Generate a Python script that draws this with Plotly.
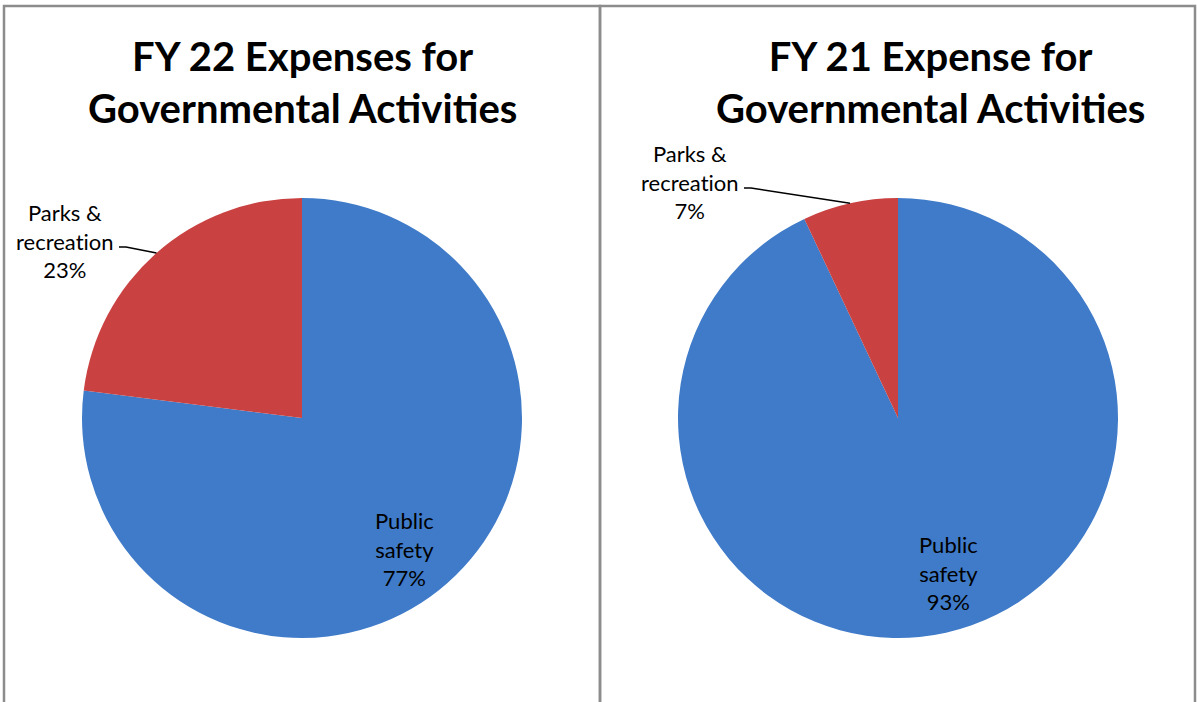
import math
import plotly.graph_objects as go

# ---- data ----
ZWNJ = "\u200c"  # keeps the browser from fusing "ti" into a ligature
categories = ["Public safety", "Parks & recreation"]
label_lines = ["Public<br>safety", f"Parks &<br>recreat{ZWNJ}ion"]
fy22_values = [77, 23]
fy21_values = [93, 7]
titles = ["FY 22 Expenses for<br>Governmental Activi" + ZWNJ + "ties",
          "FY 21 Expense for<br>Governmental Activi" + ZWNJ + "ties"]
colors = ["#3F7BC8", "#C94140"]

W, H = 1197, 702
FONT = "Lato"

def px(x):
    return x / W

def py(y):
    return 1 - y / H

# pie geometry and label placement (pixels)
pies = [
    dict(values=fy22_values, cx=302, cy=418, r=220, title=titles[0], tx=302,
         lab_ps=(404, 549), lab_parks=(65, 241)),
    dict(values=fy21_values, cx=898, cy=418, r=220, title=titles[1], tx=930,
         lab_ps=(948, 573), lab_parks=(690, 182)),
]

fig = go.Figure()
annotations = []
shapes = []

for p in pies:
    cx, cy, r = p["cx"], p["cy"], p["r"]
    fig.add_trace(go.Pie(
        labels=categories,
        values=p["values"],
        sort=False,
        direction="clockwise",
        rotation=0,
        marker=dict(colors=colors, line=dict(width=0)),
        textinfo="none",
        hoverinfo="label+percent",
        showlegend=False,
        domain=dict(x=[px(cx - r), px(cx + r)], y=[py(cy + r), py(cy - r)]),
    ))
    total = sum(p["values"])
    frac_ps = p["values"][0] / total
    lx, ly = p["lab_ps"]
    annotations.append(dict(
        x=px(lx), y=py(ly), xref="paper", yref="paper", showarrow=False,
        xanchor="center", yanchor="middle",
        text=f"{label_lines[0]}<br>{round(frac_ps*100)}%",
        font=dict(family=FONT, size=22, color="#000"), align="center",
    ))
    # parks: slice ending at 12 o'clock
    frac_pk = p["values"][1] / total
    mid_pk = math.radians(-frac_pk / 2 * 360)
    ex = cx + r * math.sin(mid_pk)
    ey = cy - r * math.cos(mid_pk)
    tx, ty = p["lab_parks"]
    annotations.append(dict(
        x=px(tx), y=py(ty), xref="paper", yref="paper", showarrow=False,
        xanchor="center", yanchor="middle",
        text=f"{label_lines[1]}<br>{round(frac_pk*100)}%",
        font=dict(family=FONT, size=22, color="#000"), align="center",
    ))
    # leader line
    hx0 = tx + 54
    hx1 = tx + 61
    hy = ty + 6
    shapes.append(dict(type="path", xref="paper", yref="paper",
                       path=f"M {px(ex)} {py(ey)} L {px(hx1)} {py(hy)} L {px(hx0)} {py(hy)}",
                       line=dict(color="#000", width=1.5)))
    # title
    annotations.append(dict(
        x=px(p["tx"]), y=py(82), xref="paper", yref="paper", showarrow=False,
        xanchor="center", yanchor="middle",
        text=f"<b>{p['title']}</b>", font=dict(family=FONT, size=40, color="#000"),
        align="center",
    ))

# panel borders
for x0, x1 in [(4, 600), (600, 1195)]:
    shapes.append(dict(type="rect", xref="paper", yref="paper",
                       x0=px(x0), x1=px(x1), y0=py(720), y1=py(6),
                       line=dict(color="#8C8C8C", width=2.5), fillcolor="rgba(0,0,0,0)",
                       layer="below"))

fig.update_layout(
    width=W, height=H,
    margin=dict(l=0, r=0, t=0, b=0),
    paper_bgcolor="white",
    plot_bgcolor="white",
    annotations=annotations,
    shapes=shapes,
    font=dict(family=FONT),
)

fig.write_html("out.html")
